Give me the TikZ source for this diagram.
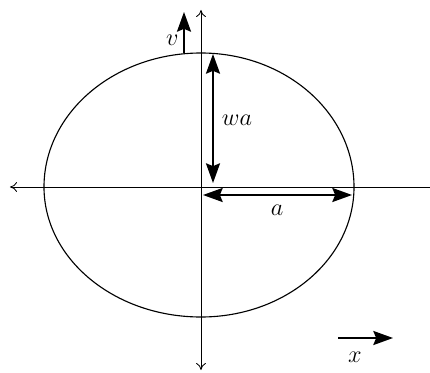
\documentclass[tikz,border=0pt]{standalone}
\usepackage{amsmath,amssymb}
\usepackage{tikz}
\usetikzlibrary{arrows.meta}

\begin{document}
\begin{tikzpicture}[
    axis/.style={line width=0.6pt,-{To[length=5pt,width=7pt]}},
    vec/.style={line width=1.3pt,-{Stealth[length=14pt,width=10pt,inset=2pt]}},
    dim/.style={line width=1.3pt,{Stealth[length=14pt,width=10pt,inset=2pt]}-{Stealth[length=14pt,width=10pt,inset=2pt]}},
    lbl/.style={font=\fontsize{17}{20}\selectfont}
  ]
    \useasboundingbox (-5.025,-4.625) rectangle (5.725,4.675);
    % axes
    \coordinate (O) at (0,0);
    \coordinate (xl) at (-4.775,0);
    \coordinate (xr) at (5.725,0);
    \coordinate (yt) at (0,4.425);
    \coordinate (yb) at (0,-4.575);
    \draw[axis] (xr) -- (xl);
    \draw[axis] (O) -- (yt);
    \draw[axis] (O) -- (yb);
    % the outline, one quarter arc at a time
    \draw[line width=0.8pt] (3.825,0) arc[start angle=0,end angle=90,x radius=3.825,y radius=3.35]
      arc[start angle=90,end angle=180,x radius=3.925,y radius=3.35]
      arc[start angle=180,end angle=270,x radius=3.925,y radius=3.25]
      arc[start angle=270,end angle=360,x radius=3.825,y radius=3.25];
    % v
    \coordinate (v0) at (-0.425,3.35);
    \coordinate (v1) at (-0.425,4.375);
    \draw[vec] (v0) -- (v1);
    \node[lbl] (vlab) at (-0.72,3.66) {$v$};
    % wa
    \coordinate (w0) at (0.3,0.1);
    \coordinate (w1) at (0.3,3.325);
    \draw[dim] (w0) -- (w1);
    \node[lbl] (walab) at (0.9,1.68) {$wa$};
    % a
    \coordinate (a0) at (0.05,-0.2);
    \coordinate (a1) at (3.775,-0.2);
    \draw[dim] (a0) -- (a1);
    \node[lbl] (alab) at (1.9,-0.58) {$a$};
    % x
    \coordinate (x0) at (3.425,-3.775);
    \coordinate (x1) at (4.8,-3.775);
    \draw[vec] (x0) -- (x1);
    \node[lbl] (xlab) at (3.85,-4.25) {$x$};
  \end{tikzpicture}
\end{document}
